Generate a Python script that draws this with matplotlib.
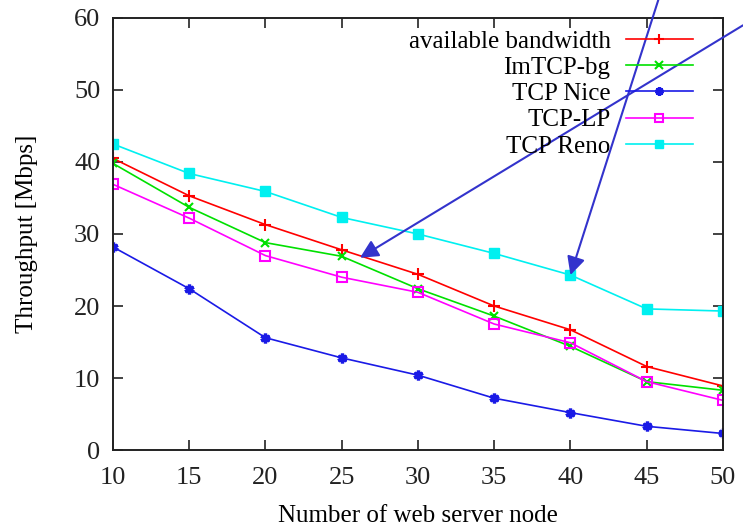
import numpy as np
import matplotlib.pyplot as plt

# number of web server nodes
nodes = [10, 15, 20, 25, 30, 35, 40, 45, 50]

# throughput [Mbps]
avail_bw = [40.5, 35.3, 31.3, 27.8, 24.4, 20.0, 16.7, 11.6, 8.9]
imtcp_bg = [39.8, 33.7, 28.8, 26.9, 22.4, 18.6, 14.4, 9.5, 8.3]
tcp_nice = [28.2, 22.4, 15.6, 12.8, 10.4, 7.2, 5.2, 3.3, 2.3]
tcp_lp = [36.9, 32.2, 27.0, 24.0, 21.9, 17.5, 14.9, 9.5, 6.9]
tcp_reno = [42.5, 38.4, 35.9, 32.3, 30.0, 27.3, 24.3, 19.6, 19.3]

x_ticks = [10, 15, 20, 25, 30, 35, 40, 45, 50]
y_ticks = [0, 10, 20, 30, 40, 50, 60]

# annotation arrows: tip in data coords, tail in figure fraction
arrow_tips = [(26.2, 26.7), (nodes[6], tcp_reno[6])]
arrow_tails = [(1.0, 0.952), (0.886, 1.0)]

plt.rcParams['font.family'] = ['Liberation Serif', 'DejaVu Serif']

fig = plt.figure(figsize=(7.43, 5.27), dpi=100)
ax = fig.add_axes([0.152, 0.146, 0.821, 0.820])

ax.plot(nodes, avail_bw, color='#ff0000', lw=1.2, marker='+', ms=9, mew=1.5,
        label='available bandwidth')
ax.plot(nodes, imtcp_bg, color='#00e000', lw=1.2, marker='x', ms=6, mew=1.5,
        label='ImTCP-bg')
ax.plot(nodes, tcp_nice, color='#1a1ae6', lw=1.2, marker=(6, 2, 0), ms=7, mew=2.4,
        label='TCP Nice')
ax.plot(nodes, tcp_lp, color='#ff00ff', lw=1.2, marker='s', ms=7, mew=1.5,
        mfc='none', label='TCP-LP')
ax.plot(nodes, tcp_reno, color='#00f0f0', lw=1.2, marker='s', ms=7, mew=1,
        label='TCP Reno')

ax.set_xlim(10, 50)
ax.set_ylim(0, 60)
ax.set_xticks(x_ticks)
ax.set_yticks(y_ticks)
ax.tick_params(direction='in', length=7, width=1.2, labelsize=19,
               top=True, right=True, colors='#222222')
ax.tick_params(axis='y', pad=9)
ax.tick_params(axis='x', pad=12)
for s in ax.spines.values():
    s.set_linewidth(1.4)
    s.set_color('#222222')

ax.set_xlabel('Number of web server node', fontsize=18, labelpad=12)
ax.set_ylabel('Throughput [Mbps]', fontsize=18, labelpad=26)

ax.legend(loc='upper right', frameon=False, markerfirst=False, fontsize=18,
          handlelength=2.7, handletextpad=0.6, labelspacing=0.15,
          borderpad=0, borderaxespad=0, bbox_to_anchor=(0.951, 0.972),
          markerscale=0.85)

for tip, tail in zip(arrow_tips, arrow_tails):
    ax.annotate('', xy=tip, xycoords='data', xytext=tail, textcoords='figure fraction',
                arrowprops=dict(arrowstyle='-|>,head_length=1.1,head_width=0.55',
                                color='#3333cc', lw=1.5, shrinkA=0, shrinkB=0),
                annotation_clip=False)

fig.savefig('out.png', dpi=100)
